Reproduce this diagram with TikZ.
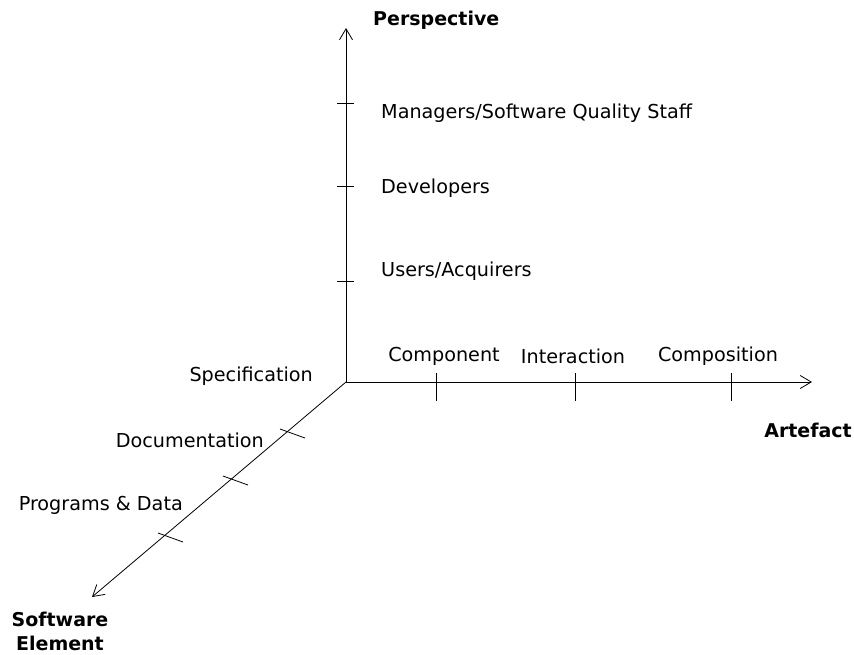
\documentclass[tikz,border=0pt]{standalone}
\usepackage{fontspec}
\setmainfont{DejaVu Sans}
\usetikzlibrary{positioning}
\usetikzlibrary{arrows.meta}

\begin{document}
\begin{tikzpicture}[x=1pt, y=-1pt,
                    axis/.style={draw, line width=0.8pt, -{Straight Barb[length=11pt,width=13pt]}},
                    tick/.style={draw, line width=0.8pt},
                    lbl/.style={font=\fontsize{19.2}{23}\selectfont, inner sep=0pt},
                    title/.style={font=\fontsize{19}{24}\selectfont\bfseries, inner sep=0pt, align=center}]

    \useasboundingbox (0,0) rectangle (854,654);

    % origin and axis ends
    \coordinate (O) at (346,382);
    \coordinate (P) at (346,28);
    \coordinate (A) at (812,382);
    \coordinate (S) at (92,597);

    \draw[axis] (O) -- (P);
    \draw[axis] (O) -- (A);
    \draw[axis] (O) -- (S);

    % ticks
    \foreach \y in {103,186,281}
        \draw[tick] (337,\y) -- (354,\y);
    \foreach \x in {436,575,731}
        \draw[tick] (\x,373) -- (\x,401);
    \foreach \x/\y in {292/433,235/480,170/537}
        \draw[tick] (\x-12,\y-4) -- (\x+13,\y+5);

    % perspective axis
    \node[title, anchor=west] (persp) at (373,20) {Perspective};
    \node[lbl, anchor=west] (mgr) at (381,113) {Managers/Software Quality Staff};
    \node[lbl, anchor=west] (dev) at (381,188) {Developers};
    \node[lbl, anchor=west] (usr) at (381,271) {Users/Acquirers};

    % artefact axis
    \node[lbl] (comp) at (444,356) {Component};
    \node[lbl] (inter) at (573,356) {Interaction};
    \node[lbl] (compo) at (718,356) {Composition};
    \node[title, anchor=east] (art) at (852,430) {Artefact};

    % software element axis
    \node[lbl, anchor=east] (spec) at (313,376) {Specification};
    \node[lbl, anchor=east] (doc) at (264,440) {Documentation};
    \node[lbl, anchor=east] (prog) at (183,505) {Programs \& Data};
    \node[title] (elem) at (60,631) {Software\\Element};

\end{tikzpicture}
\end{document}
